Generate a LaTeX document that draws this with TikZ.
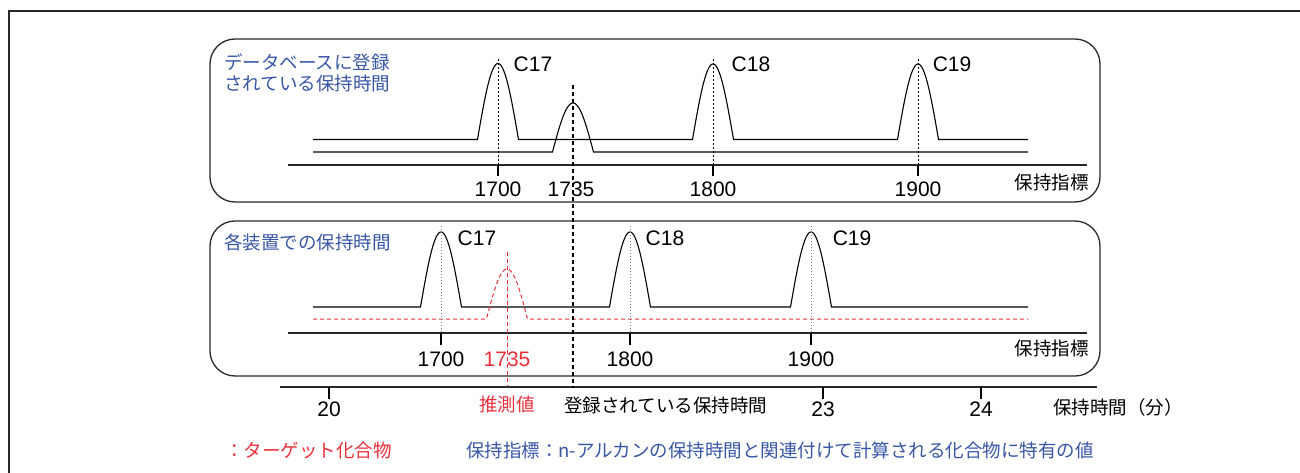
\documentclass[tikz,border=0pt]{standalone}
\usepackage{fontspec}
\setmainfont{Liberation Sans}
\newfontfamily\jp{Noto Sans CJK JP}
\definecolor{jblue}{RGB}{56,86,166}
\definecolor{jred}{RGB}{232,48,58}
\definecolor{frame}{RGB}{40,40,40}
\begin{document}
\begin{tikzpicture}[x=1pt,y=-1pt,
  panel/.style={draw=frame, line width=1.3pt, rounded corners=25pt},
  sigline/.style={line width=1.1pt},
  axisline/.style={line width=1.3pt, draw=frame},
  dguide/.style={dash pattern=on 2pt off 2pt, line width=0.9pt},
  faint/.style={gray, dash pattern=on 1pt off 2pt, line width=0.9pt},
  numlbl/.style={font=\fontsize{21}{24}\selectfont, inner sep=0pt},
  jlbl/.style={font=\jp\fontsize{18.5}{21}\selectfont, inner sep=0pt, align=left}]
\useasboundingbox (0,0) rectangle (1300,473);
% outer frame
\draw[line width=1.5pt, draw=frame] (9,473) -- (9,11) -- (1300,11);
% panels
\draw[panel] (210,39) rectangle (1100,202);
\draw[panel] (210,221) rectangle (1100,376);
% ---------- top panel ----------
\node[jlbl, text=jblue, anchor=west] (t1) at (224,73) {データベースに登録\\されている保持時間};
\draw[sigline] (313,139.5) -- (477.5,139.5)
  -- plot[domain=-20.5:20.5,samples=41] ({498+\x},{139.5-76*cos(90*\x/20.5)})
  -- plot[domain=-20.5:20.5,samples=41] ({713+\x},{139.5-75.5*cos(90*\x/20.5)})
  -- plot[domain=-20.5:20.5,samples=41] ({918+\x},{139.5-75.5*cos(90*\x/20.5)})
  -- (1028,139.5);
\draw[sigline] (313,152) -- (552.5,152)
  -- plot[domain=-20.5:20.5,samples=41] ({573+\x},{152-49*cos(90*\x/20.5)})
  -- (1028,152);
\draw[axisline] (288,165) -- (1087,165);
\foreach \xx in {498,713,918} {
  \draw[dguide] (\xx,59) -- (\xx,165);
  \draw[line width=1.1pt] (\xx,165) -- (\xx,176);
}
\node[numlbl] (c17a) at (533,64.5) {C17};
\node[numlbl] (c18a) at (751,64.5) {C18};
\node[numlbl] (c19a) at (952,64.5) {C19};
\node[numlbl] (n1700a) at (498,189.5) {1700};
\node[numlbl] (n1735a) at (571,189.5) {1735};
\node[numlbl] (n1800a) at (713,189.5) {1800};
\node[numlbl] (n1900a) at (918,189.5) {1900};
\node[jlbl, anchor=east] (rixa) at (1089,182) {保持指標};
% ---------- bottom panel ----------
\node[jlbl, text=jblue, anchor=west] (t2) at (224,242) {各装置での保持時間};
\draw[sigline] (313,307) -- (420.5,307)
  -- plot[domain=-20.5:20.5,samples=41] ({441+\x},{307-75*cos(90*\x/20.5)})
  -- plot[domain=-20.5:20.5,samples=41] ({630+\x},{307-75*cos(90*\x/20.5)})
  -- plot[domain=-20.5:20.5,samples=41] ({811+\x},{307-75*cos(90*\x/20.5)})
  -- (1028,307);
\draw[jred, line width=1pt, dash pattern=on 4pt off 3pt] (313,319) -- (486.5,319)
  -- plot[domain=-20.5:20.5,samples=41] ({507+\x},{319-50*cos(90*\x/20.5)})
  -- (1028,319);
\draw[axisline] (288,333) -- (1087,333);
\foreach \xx in {441,630,811} {
  \draw[faint] (\xx,226) -- (\xx,333);
  \draw[line width=1.1pt] (\xx,333) -- (\xx,345);
}
\node[numlbl] (c17b) at (477,238.5) {C17};
\node[numlbl] (c18b) at (665,238.5) {C18};
\node[numlbl] (c19b) at (852,238.5) {C19};
\node[numlbl] (n1700b) at (441,359) {1700};
\node[numlbl, text=jred] (n1735b) at (507,359) {1735};
\node[numlbl] (n1800b) at (630,359) {1800};
\node[numlbl] (n1900b) at (811,359) {1900};
\node[jlbl, anchor=east] (rixb) at (1089,348) {保持指標};
% ---------- time axis ----------
\draw[axisline] (280,387) -- (1097,387);
\foreach \xx/\lb in {329/20,823/23,981/24} {
  \draw[line width=1.1pt] (\xx,387) -- (\xx,399);
  \node[numlbl] at (\xx,409.5) {\lb};
}
\node[jlbl, text=jred] (est) at (507,404) {推測値};
\node[jlbl, anchor=west] (reg) at (564,405.5) {登録されている保持時間};
\node[jlbl, anchor=west] (tunit) at (1053,407) {保持時間（分）};
% guide lines crossing panels
\draw[jred, line width=1pt, dash pattern=on 4pt off 3pt] (507,252) -- (507,386);
\draw[line width=1.1pt, dash pattern=on 4pt off 3pt] (573,85) -- (573,388);
% ---------- legend ----------
\node[jlbl, text=jred, anchor=west] (leg1) at (225,450.5) {：ターゲット化合物};
\node[jlbl, text=jblue, anchor=west] (leg2) at (466,450.5) {保持指標：n-アルカンの保持時間と関連付けて計算される化合物に特有の値};
\end{tikzpicture}
\end{document}
